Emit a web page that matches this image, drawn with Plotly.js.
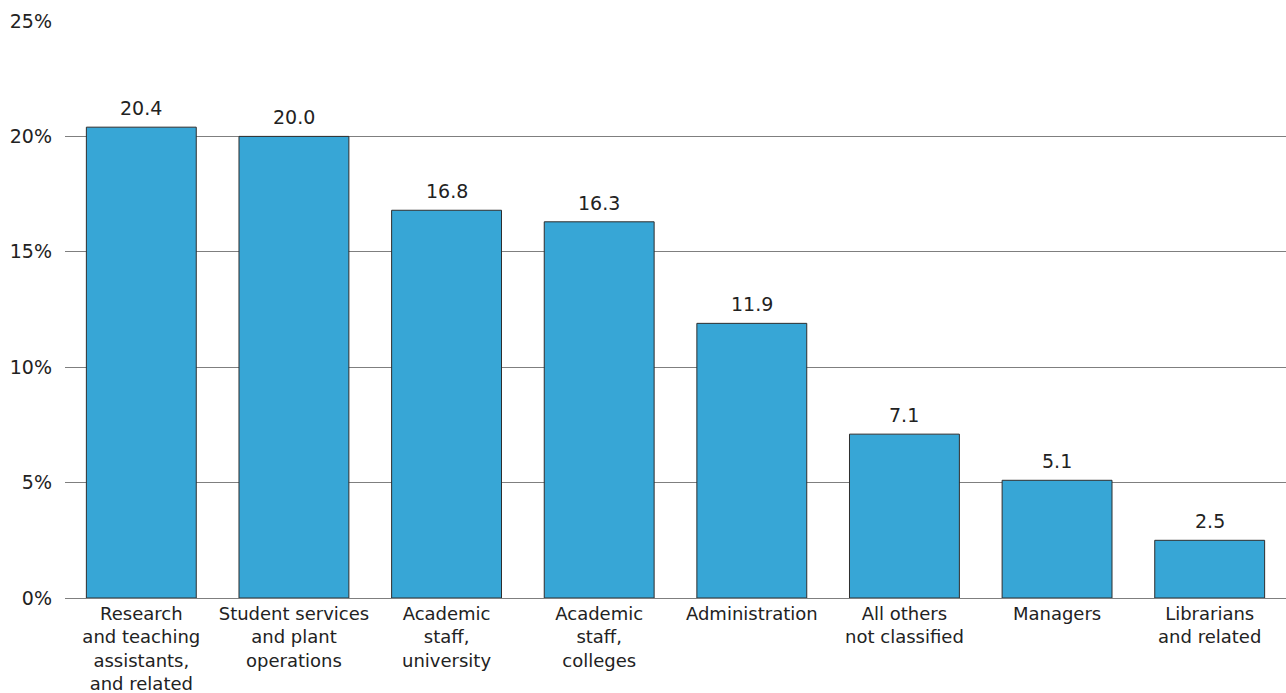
<!DOCTYPE html>
<html>
<head>
<meta charset="utf-8">
<script src="https://cdn.plot.ly/plotly-3.0.1.min.js"></script>
<style>html,body{margin:0;padding:0;background:#fff;}#chart{width:1286px;height:693px;}</style>
</head>
<body>
<div id="chart"></div>
<script>
const categories = [
  "Research<br>and teaching<br>assistants,<br>and related",
  "Student services<br>and plant<br>operations",
  "Academic<br>staff,<br>university",
  "Academic<br>staff,<br>colleges",
  "Administration",
  "All others<br>not classified",
  "Managers",
  "Librarians<br>and related"
];
const values = [20.4, 20.0, 16.8, 16.3, 11.9, 7.1, 5.1, 2.5];
const yTickVals = [0, 5, 10, 15, 20, 25];
const yTickText = ["0%", "5%", "10%", "15%", "20%", "25%"];

const FONT = "DejaVu Sans, sans-serif";
const trace = {
  type: "bar",
  x: categories,
  y: values,
  marker: {color: "#37A6D6", line: {color: "#2e2e2e", width: 1}},
  hoverinfo: "none"
};
const annotations = values.map((v, i) => ({
  x: categories[i], y: v, xref: "x", yref: "y",
  text: v.toFixed(1), showarrow: false,
  yanchor: "bottom", yshift: 6,
  font: {family: FONT, size: 19, color: "#222"}
}));
const layout = {
  width: 1286, height: 693,
  margin: {l: 65, r: 0, t: 21, b: 95},
  paper_bgcolor: "#fff", plot_bgcolor: "#fff",
  bargap: 0.28,
  showlegend: false,
  font: {family: FONT, size: 18, color: "#222"},
  annotations: annotations,
  xaxis: {
    type: "category",
    showgrid: false, showline: false, zeroline: false,
    ticks: "", tickfont: {family: FONT, size: 18, color: "#222"},
    ticklabelstandoff: 3,
    automargin: false
  },
  yaxis: {
    range: [0, 25],
    tickvals: yTickVals, ticktext: yTickText,
    showgrid: true, gridcolor: "#7f7f7f", gridwidth: 1,
    zeroline: true, zerolinecolor: "#7f7f7f", zerolinewidth: 1,
    showline: false, ticks: "",
    ticklabelstandoff: 12,
    tickfont: {family: FONT, size: 19, color: "#222"},
    automargin: false
  }
};
Plotly.newPlot("chart", [trace], layout, {staticPlot: true, displayModeBar: false});
</script>
</body>
</html>
